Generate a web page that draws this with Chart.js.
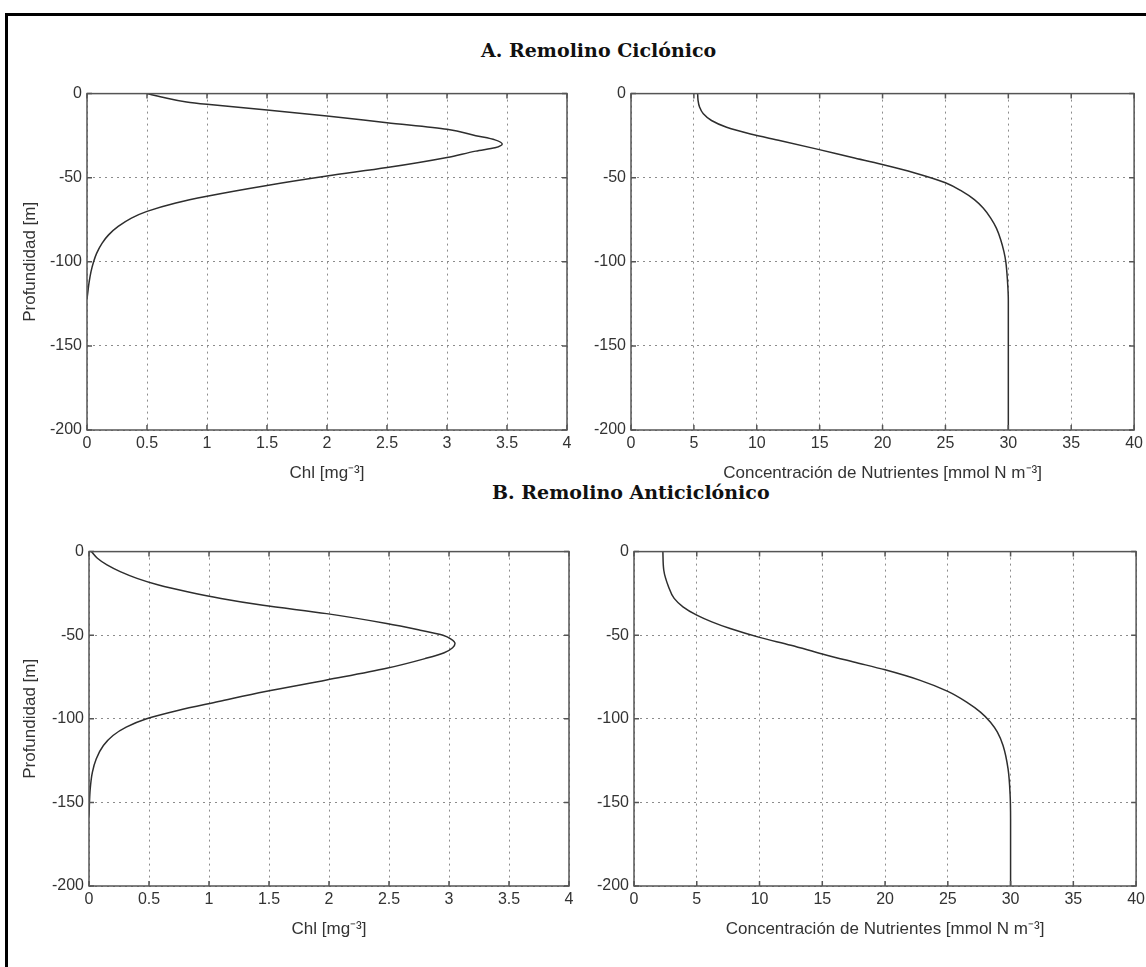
<!DOCTYPE html>
<html>
<head>
<meta charset="utf-8">
<script src="https://cdn.jsdelivr.net/npm/chart.js@4.4.1/dist/chart.umd.min.js"></script>
<style>
  html, body { margin: 0; padding: 0; background: #ffffff; }
  body { width: 1146px; height: 967px; position: relative; overflow: hidden; }
  #frame { position: absolute; left: 5px; top: 13px; width: 1200px; height: 1000px;
           border-left: 3px solid #000; border-top: 3px solid #000; }
  canvas { position: absolute; }
  .ttl { position: absolute; font-family: "DejaVu Serif", serif; font-weight: bold;
         font-size: 19px; line-height: 20px; color: #111; white-space: nowrap; }
</style>
</head>
<body>
<div id="frame"></div>
<div class="ttl" style="left:481px; top:40px;">A. Remolino Ciclónico</div>
<div class="ttl" style="left:492px; top:482px;">B. Remolino Anticiclónico</div>
<canvas id="chlCyc"></canvas>
<canvas id="nutCyc"></canvas>
<canvas id="chlAnti"></canvas>
<canvas id="nutAnti"></canvas>
<script>
// Cyclonic eddy: chlorophyll profile (depth in m, negative downward)
const chlCycDepth = [0, -2, -5, -6.4, -9.7, -13.3, -17.3, -21.2, -25, -27.5,
                     -30, -32.2, -34.2, -38, -44, -49, -54.6, -61, -65, -70,
                     -74, -79, -84, -89, -95, -100, -106, -112, -118, -122];
const chlCycValue = [0.5, 0.62, 0.83, 1.0, 1.5, 2.0, 2.5, 3.0, 3.24, 3.4,
                     3.46, 3.4, 3.24, 3.0, 2.5, 2.0, 1.5, 1.0, 0.74, 0.5,
                     0.37, 0.26, 0.18, 0.125, 0.08, 0.055, 0.033, 0.018, 0.007, 0];

// Cyclonic eddy: nutrient profile
const nutCycDepth = [0, -4, -8, -12, -16, -20, -24, -28, -33, -38,
                     -42, -47, -53, -58, -63, -68, -74, -80, -87, -94,
                     -100, -111, -123, -200];
const nutCycValue = [5.3, 5.33, 5.45, 5.75, 6.4, 7.6, 9.5, 11.9, 14.8, 17.6,
                     19.9, 22.5, 25, 26.3, 27.3, 28.0, 28.6, 29.05, 29.4, 29.65,
                     29.8, 29.93, 30, 30];

// Anticyclonic eddy: chlorophyll profile
const chlAntiDepth = [0, -4, -8, -12, -16, -20, -24, -28, -32.1, -37.1,
                      -43, -47, -50, -52.5, -55, -57.5, -60.5, -64, -69.8, -76.8,
                      -83.7, -89.7, -95, -100, -105, -110, -116, -124, -132, -142, -158];
const chlAntiValue = [0.02, 0.07, 0.15, 0.26, 0.4, 0.58, 0.82, 1.1, 1.45, 1.98,
                      2.48, 2.76, 2.95, 3.02, 3.05, 3.03, 2.96, 2.8, 2.48, 1.98,
                      1.47, 1.08, 0.74, 0.48, 0.31, 0.2, 0.12, 0.06, 0.028, 0.01, 0];

// Anticyclonic eddy: nutrient profile
const nutAntiDepth = [0, -11, -21, -28, -33, -38, -42, -46, -51.3, -56,
                      -61.2, -66, -70.7, -77, -83.6, -90, -96, -102, -108, -116,
                      -130, -145, -160, -200];
const nutAntiValue = [2.3, 2.37, 2.75, 3.2, 3.9, 5.0, 6.2, 7.66, 10, 12.5,
                      15, 17.5, 20, 22.8, 25, 26.5, 27.6, 28.4, 28.95, 29.4,
                      29.8, 29.96, 30, 30];

// Tick values
const chlTicks = [0, 0.5, 1, 1.5, 2, 2.5, 3, 3.5, 4];
const nutTicks = [0, 5, 10, 15, 20, 25, 30, 35, 40];
const depthTicks = [0, -50, -100, -150, -200];

// Axis titles
const chlTitle = 'Chl [mg\u207B\u00B3]';
const nutTitle = 'Concentración de Nutrientes [mmol N m\u207B\u00B3]';
const depthTitle = 'Profundidad [m]';

const TICK_FONT = { family: '"Liberation Sans", Arial, sans-serif', size: 16 };
const TITLE_FONT = { family: '"Liberation Sans", Arial, sans-serif', size: 17 };
const TEXT_COLOR = '#333333';

// Solid box around the plot area with short inward tick marks on all four sides
const boxPlugin = {
  id: 'boxFrame',
  afterDatasetsDraw(chart) {
    const { ctx, chartArea: a, scales: { x, y } } = chart;
    const len = 5;
    ctx.save();
    ctx.setLineDash([]);
    ctx.strokeStyle = '#555';
    ctx.lineWidth = 1.5;
    ctx.beginPath();
    x.ticks.forEach(t => {
      const px = x.getPixelForValue(t.value);
      ctx.moveTo(px, a.top); ctx.lineTo(px, a.top + len);
      ctx.moveTo(px, a.bottom); ctx.lineTo(px, a.bottom - len);
    });
    y.ticks.forEach(t => {
      const py = y.getPixelForValue(t.value);
      ctx.moveTo(a.left, py); ctx.lineTo(a.left + len, py);
      ctx.moveTo(a.right, py); ctx.lineTo(a.right - len, py);
    });
    ctx.stroke();
    ctx.strokeRect(a.left, a.top, a.right - a.left, a.bottom - a.top);
    ctx.restore();
  }
};

function toPoints(xs, ys) {
  return xs.map((v, i) => ({ x: v, y: ys[i] }));
}

function makePanel(id, area, xs, ys, xTicks, xTitle, yTitle) {
  const padTop = 12, padRight = 12, xH = 54;
  const yW = yTitle ? area.L - 20 : 60;
  const cv = document.getElementById(id);
  const w = area.R - area.L + yW + padRight;
  const h = area.B - area.T + padTop + xH;
  cv.width = w; cv.height = h;
  cv.style.width = w + 'px'; cv.style.height = h + 'px';
  cv.style.left = (area.L - yW) + 'px';
  cv.style.top = (area.T - padTop) + 'px';

  const gridOpts = { color: '#8c8c8c', lineWidth: 1, drawTicks: false };
  const borderOpts = { display: false, dash: [2, 4] };

  return new Chart(cv, {
    type: 'line',
    data: {
      datasets: [{
        data: toPoints(xs, ys),
        borderColor: '#2e2e2e',
        borderWidth: 1.5,
        pointRadius: 0,
        pointHoverRadius: 0,
        cubicInterpolationMode: 'monotone',
        fill: false
      }]
    },
    options: {
      indexAxis: 'y',
      responsive: false,
      maintainAspectRatio: false,
      devicePixelRatio: 1,
      animation: false,
      events: [],
      layout: { padding: { top: padTop, right: padRight, left: 0, bottom: 0 } },
      plugins: { legend: { display: false }, tooltip: { enabled: false } },
      scales: {
        x: {
          type: 'linear',
          min: xTicks[0], max: xTicks[xTicks.length - 1],
          afterBuildTicks: s => { s.ticks = xTicks.map(v => ({ value: v })); },
          afterFit: s => { s.height = xH; },
          grid: gridOpts,
          border: borderOpts,
          ticks: { padding: 4, color: TEXT_COLOR, font: TICK_FONT, autoSkip: false,
                   maxRotation: 0, callback: v => String(v) },
          title: { display: true, text: xTitle, color: TEXT_COLOR, font: TITLE_FONT, padding: 0 }
        },
        y: {
          type: 'linear',
          min: depthTicks[depthTicks.length - 1], max: depthTicks[0],
          afterBuildTicks: s => { s.ticks = depthTicks.slice().reverse().map(v => ({ value: v })); },
          afterFit: s => { s.width = yW; },
          grid: gridOpts,
          border: borderOpts,
          ticks: { padding: 5, color: TEXT_COLOR, font: TICK_FONT, autoSkip: false,
                   callback: v => String(v) },
          title: { display: !!yTitle, text: yTitle || '', color: TEXT_COLOR, font: TITLE_FONT, padding: 0 }
        }
      }
    },
    plugins: [boxPlugin]
  });
}

makePanel('chlCyc',  { L: 87,  T: 91,  R: 567,  B: 430 }, chlCycValue,  chlCycDepth,  chlTicks, chlTitle, depthTitle);
makePanel('nutCyc',  { L: 631, T: 91,  R: 1135, B: 430 }, nutCycValue,  nutCycDepth,  nutTicks, nutTitle, null);
makePanel('chlAnti', { L: 89,  T: 549, R: 569,  B: 886 }, chlAntiValue, chlAntiDepth, chlTicks, chlTitle, depthTitle);
makePanel('nutAnti', { L: 634, T: 549, R: 1137, B: 886 }, nutAntiValue, nutAntiDepth, nutTicks, nutTitle, null);
</script>
</body>
</html>
